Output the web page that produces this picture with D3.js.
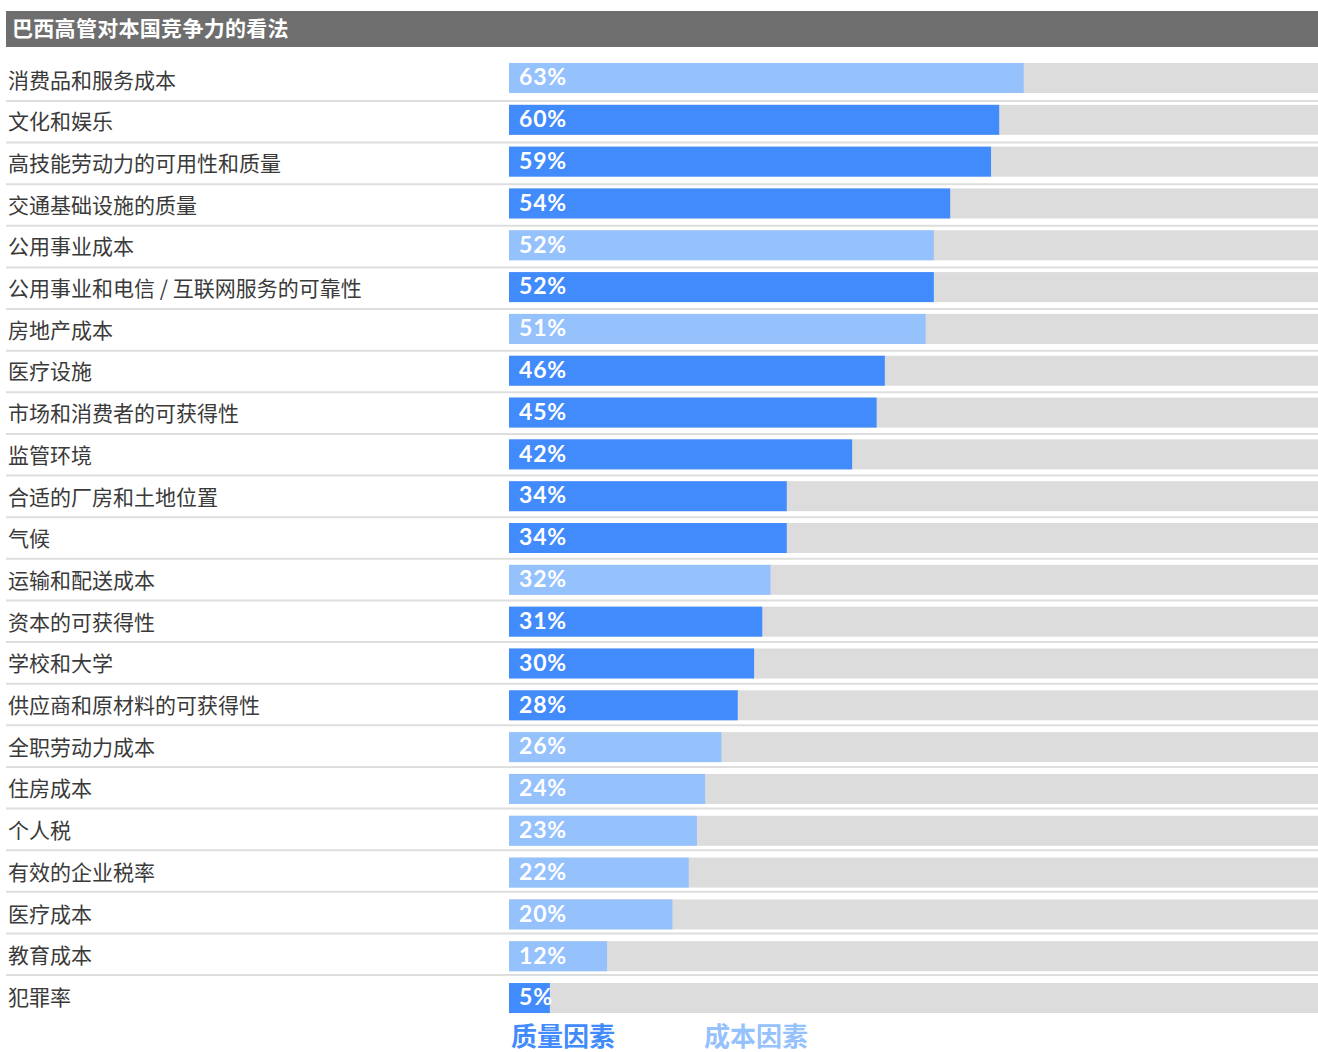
<!DOCTYPE html>
<html>
<head>
<meta charset="utf-8">
<script src="https://cdn.jsdelivr.net/npm/d3@7"></script>
<style>
  html, body { margin: 0; padding: 0; background: #fff; }
  svg { display: block; }
</style>
</head>
<body>
<svg id="chart" width="1318" height="1052"></svg>
<script>
// Survey factors, share of executives (%), and factor type
const categories = [
  "消费品和服务成本", "文化和娱乐", "高技能劳动力的可用性和质量", "交通基础设施的质量",
  "公用事业成本", "公用事业和电信 / 互联网服务的可靠性", "房地产成本", "医疗设施",
  "市场和消费者的可获得性", "监管环境", "合适的厂房和土地位置", "气候",
  "运输和配送成本", "资本的可获得性", "学校和大学", "供应商和原材料的可获得性",
  "全职劳动力成本", "住房成本", "个人税", "有效的企业税率",
  "医疗成本", "教育成本", "犯罪率"
];
const values = [63, 60, 59, 54, 52, 52, 51, 46, 45, 42, 34, 34, 32, 31, 30, 28, 26, 24, 23, 22, 20, 12, 5];
// "q" = quality factor, "c" = cost factor
const types = ["c", "q", "q", "q", "c", "q", "c", "q", "q", "q", "q", "q", "c", "q", "q", "q", "c", "c", "c", "c", "c", "c", "q"];
const legendLabels = ["质量因素", "成本因素"];
const title = "巴西高管对本国竞争力的看法";

const colors = { q: "#418bfd", c: "#95c1fd" };
const trackColor = "#dcdcdc";

const svg = d3.select("#chart");
const W = 1318;

// Title banner
svg.append("rect").attr("x", 6).attr("y", 11).attr("width", W - 6).attr("height", 36).attr("fill", "#6e6e6e");
svg.append("text").attr("x", 12).attr("y", 28).attr("dy", "0.36em")
  .attr("fill", "#fff").attr("font-family", "'Noto Sans CJK SC', sans-serif")
  .attr("font-weight", 700).attr("font-size", 21).attr("letter-spacing", 0.3).text(title);

const x = d3.scaleLinear().domain([0, 100]).range([509, 509 + 817]);
const y = d3.scaleBand().domain(categories).range([61, 61 + 41.82 * categories.length]).padding(0);
const barH = 30;
const sepY = d3.scaleLinear().domain([0, categories.length - 2]).range([101, 975]);

// Row separators
svg.append("g").selectAll("line").data(d3.range(categories.length - 1)).join("line")
  .attr("x1", 6).attr("x2", W)
  .attr("y1", d => sepY(d)).attr("y2", d => sepY(d))
  .attr("stroke", "#dedede").attr("stroke-width", 2);

const rows = svg.append("g").selectAll("g").data(categories).join("g");

// Full-scale track
rows.append("rect")
  .attr("x", x(0)).attr("y", d => y(d) + 2)
  .attr("width", x(100) - x(0)).attr("height", barH)
  .attr("fill", trackColor);

// Value bars
rows.append("rect")
  .attr("x", x(0)).attr("y", d => y(d) + 2)
  .attr("width", (d, i) => x(values[i]) - x(0)).attr("height", barH)
  .attr("fill", (d, i) => colors[types[i]]);

// Value labels
rows.append("text")
  .attr("x", x(0) + 10).attr("y", d => y(d) + 2 + barH / 2 - 1).attr("dy", "0.36em")
  .attr("fill", "#fff").attr("font-family", "Lato, sans-serif").attr("font-weight", 700)
  .attr("font-size", 23).attr("letter-spacing", 0.8)
  .text((d, i) => values[i] + "%");

// Category labels
rows.append("text")
  .attr("x", 8).attr("y", (d, i) => 80 + i * 41.7).attr("dy", "0.36em")
  .attr("fill", "#3a3a3a").attr("font-family", "'Noto Sans CJK SC', sans-serif")
  .attr("font-weight", 400).attr("font-size", 21)
  .text(d => d);

// Legend
const legend = svg.append("g");
legend.selectAll("text").data(legendLabels).join("text")
  .attr("x", (d, i) => i === 0 ? 511 : 704).attr("y", 1037).attr("dy", "0.36em")
  .attr("fill", (d, i) => i === 0 ? colors.q : colors.c)
  .attr("font-family", "'Noto Sans CJK SC', sans-serif").attr("font-weight", 700)
  .attr("font-size", 26).text(d => d);
</script>
</body>
</html>
